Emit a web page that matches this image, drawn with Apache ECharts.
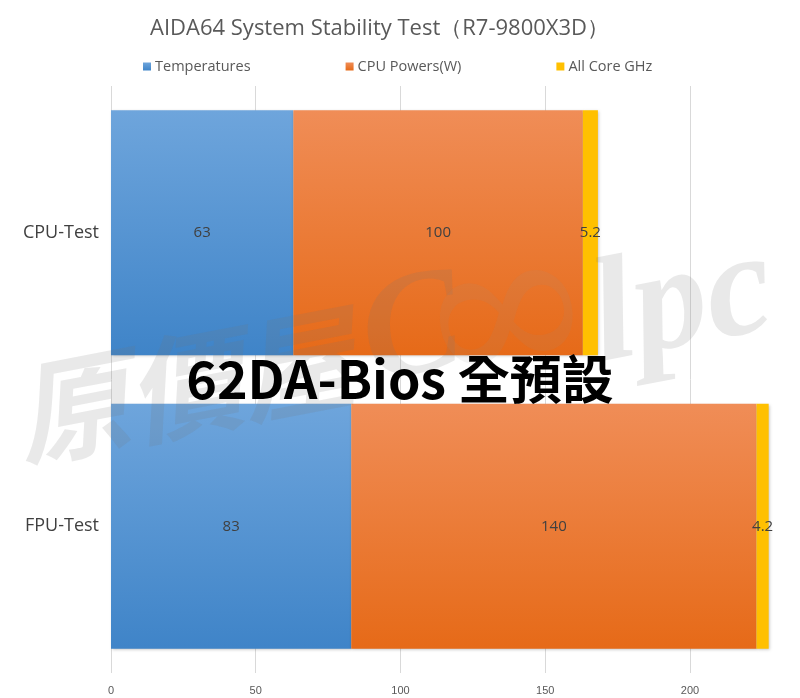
<!DOCTYPE html>
<html><head><meta charset="utf-8">
<script src="https://cdn.jsdelivr.net/npm/echarts@6/dist/echarts.min.js"></script>
<style>html,body{margin:0;padding:0;background:#fff}#c{width:800px;height:698px}</style>
</head><body><div id="c"></div>
<script>
const categories = ['FPU-Test', 'CPU-Test'];
const seriesNames = ['Temperatures', 'CPU Powers(W)', 'All Core GHz'];
const temperatures = [83, 63];
const cpuPowers = [140, 100];
const allCoreGHz = [4.2, 5.2];
const xTicks = [0, 50, 100, 150, 200];

const chart = echarts.init(document.getElementById('c'));
const grad = (a, b) => new echarts.graphic.LinearGradient(0, 0, 0, 1, [{offset: 0, color: a}, {offset: 1, color: b}]);
const lbl = {show: true, position: 'inside', color: '#404040', fontSize: 15, fontFamily: 'Open Sans'};
const shadow = {shadowColor: 'rgba(0,0,0,0.25)', shadowBlur: 3, shadowOffsetX: 1, shadowOffsetY: 1};
const wm = 'rgba(120,120,120,0.16)';
chart.setOption({
  animation: false,
  title: {text: 'AIDA64 System Stability Test（R7-9800X3D）', left: 145, top: 13,
    textStyle: {fontSize: 22, fontWeight: 'normal', color: '#595959', fontFamily: 'Open Sans'}},
  legend: {top: 54, left: 138, itemWidth: 8, itemHeight: 8, itemGap: 95, icon: 'rect',
    textStyle: {fontSize: 14.5, color: '#595959', fontFamily: 'Open Sans', padding: [0, 0, 0, -1]},
    data: seriesNames},
  grid: {left: 111, right: 29, top: 86, bottom: 25},
  xAxis: {type: 'value', min: 0, max: 228, interval: 50,
    axisLine: {show: false}, axisTick: {show: false},
    splitLine: {show: true, showMaxLine: false, lineStyle: {color: '#d9d9d9'}},
    axisLabel: {showMaxLabel: false, fontSize: 11, color: '#595959', fontFamily: 'Liberation Sans', margin: 12,
      formatter: v => xTicks.includes(v) ? String(v) : ''}},
  yAxis: {type: 'category', data: categories, axisLine: {show: false}, axisTick: {show: false},
    axisLabel: {fontSize: 18, color: '#404040', fontFamily: 'Open Sans', margin: 12}},
  series: [
    {name: seriesNames[0], type: 'bar', stack: 's', data: temperatures, barCategoryGap: '16.5%',
      itemStyle: Object.assign({color: grad('#6ea5dc', '#3f84c8')}, shadow), label: lbl},
    {name: seriesNames[1], type: 'bar', stack: 's', data: cpuPowers,
      itemStyle: Object.assign({color: grad('#f08d57', '#e66a18')}, shadow), label: lbl},
    {name: seriesNames[2], type: 'bar', stack: 's', data: allCoreGHz,
      itemStyle: Object.assign({color: '#ffc000'}, shadow), label: lbl}
  ],
  graphic: [
    {type: 'text', x: 26, y: 474, rotation: 0.19, z: 100, silent: true,
      style: {text: '原價屋', verticalAlign: 'bottom', font: 'italic bold 114px "Noto Sans CJK TC"', fill: wm}},
    {type: 'text', x: 378, y: 416, rotation: 0.19, z: 100, silent: true,
      style: {text: 'C', verticalAlign: 'bottom', font: 'italic bold 148px "Liberation Serif"', fill: wm}},
    {type: 'text', x: 440, y: 448, rotation: 0.19, z: 100, silent: true,
      style: {text: '∞', verticalAlign: 'bottom', font: 'italic 215px "DejaVu Serif"', fill: 'rgba(150,150,150,0.1)'}},
    {type: 'text', x: 608, y: 396, rotation: 0.19, z: 100, silent: true,
      style: {text: 'lpc', verticalAlign: 'bottom', font: 'italic bold 148px "Liberation Serif"', fill: wm}},
    {type: 'text', left: 'center', top: 353, z: 101, silent: true,
      style: {text: '62DA-Bios 全預設', font: 'bold 52px "Noto Sans CJK TC"', fill: '#000'}}
  ]
});
</script></body></html>
